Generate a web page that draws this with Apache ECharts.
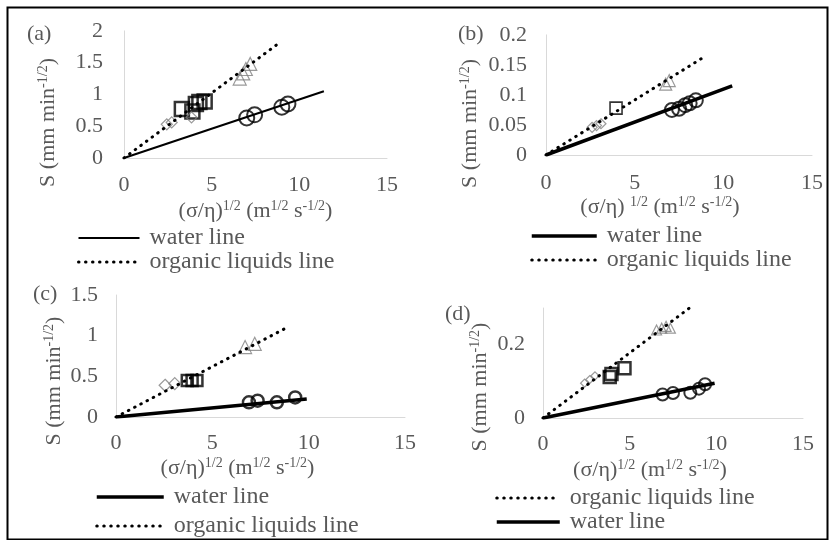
<!DOCTYPE html>
<html>
<head>
<meta charset="utf-8">
<script src="https://cdn.jsdelivr.net/npm/echarts@6/dist/echarts.min.js"></script>
<style>
  html, body { margin: 0; padding: 0; background: #fff; }
  #main { width: 829px; height: 540px; }
</style>
</head>
<body>
<div id="main"></div>
<script>
// 读图得到的数据 (x = (σ/η)^1/2, y = S)
const xTicks = [0, 5, 10, 15];

// (a)
const waterLineA = [[0, 0], [11.4, 1.05]];
const organicLineA = [[0, 0], [8.9, 1.82]];
const circlesA = [[7.0, 0.63], [7.45, 0.68], [9.0, 0.8], [9.35, 0.85]];
const squaresA = [[3.3, 0.77], [3.9, 0.73], [4.1, 0.85], [4.3, 0.88], [4.6, 0.89]];
const trianglesA = [[6.6, 1.25], [6.8, 1.33], [6.95, 1.4], [7.2, 1.48]];
const diamondsA = [[2.44, 0.53], [2.72, 0.56], [3.85, 0.64]];

// (b)
const waterLineB = [[0, 0], [10.5, 0.115]];
const organicLineB = [[0, 0], [8.9, 0.163]];
const circlesB = [[7.1, 0.075], [7.5, 0.077], [7.85, 0.083], [8.1, 0.086], [8.45, 0.091]];
const squaresB = [[3.95, 0.078]];
const trianglesB = [[6.75, 0.118], [6.95, 0.124]];
const diamondsB = [[2.6, 0.046], [2.85, 0.049], [3.1, 0.052]];

// (c)
const waterLineC = [[0, 0], [9.9, 0.22]];
const organicLineC = [[0, 0], [8.95, 1.11]];
const circlesC = [[6.9, 0.18], [7.35, 0.2], [8.35, 0.18], [9.3, 0.24]];
const squaresC = [[3.7, 0.45], [3.95, 0.45], [4.2, 0.45]];
const trianglesC = [[6.7, 0.86], [7.2, 0.9]];
const diamondsC = [[2.55, 0.39], [3.05, 0.41]];

// (d)
const waterLineD = [[0, 0], [9.9, 0.095]];
const organicLineD = [[0, 0], [8.45, 0.3]];
const circlesD = [[6.9, 0.064], [7.5, 0.068], [8.5, 0.069], [9.0, 0.08], [9.35, 0.092]];
const squaresD = [[3.85, 0.112], [3.95, 0.12], [4.7, 0.136]];
const trianglesD = [[6.55, 0.24], [6.85, 0.245], [7.1, 0.25], [7.35, 0.245]];
const diamondsD = [[2.4, 0.095], [2.7, 0.105], [3.0, 0.115]];

const FONT = '"Liberation Serif", "Times New Roman", serif';
const GREY = '#595959';
const DOTS = [0.5, 6.5];  // 圆点虚线

const rich = {
    s: { fontSize: 14, fontFamily: FONT, color: GREY, verticalAlign: 'top', lineHeight: 14 }
};

const panels = [
    {
        tag: 'a', tagPos: [27, 23],
        grid: { left: 124, top: 28, width: 263, height: 130 },
        yMax: 2, yStep: 0.5, yGap: 21, xGap: 16,
        xName: '(σ/η){s|1/2} (m{s|1/2} s{s|-1/2})', xNameGap: 41, xShift: 0,
        yNameGap: 64, yShift: 56,
        water: waterLineA, organic: organicLineA, waterW: 2,
        circles: circlesA, squares: squaresA, triangles: trianglesA, diamonds: diamondsA,
        sizes: [15, 14, 13, 11], circleW: 2, squareW: 2.5,
        legend: { left: 77, top: 226, itemWidth: 61, gap: 0, order: 'wo' }
    },
    {
        tag: 'b', tagPos: [458, 23],
        grid: { left: 546, top: 30, width: 266, height: 125 },
        yMax: 0.2, yStep: 0.05, yGap: 19, xGap: 17,
        xName: '(σ/η) {s|1/2} (m{s|1/2} s{s|-1/2})', xNameGap: 40, xShift: 38,
        yNameGap: 64, yShift: 57,
        water: waterLineB, organic: organicLineB, waterW: 3.5,
        circles: circlesB, squares: squaresB, triangles: trianglesB, diamonds: diamondsB,
        sizes: [14, 12, 12, 10], circleW: 2, squareW: 1.6,
        legend: { left: 530, top: 224, itemWidth: 65, gap: 0, order: 'wo' }
    },
    {
        tag: 'c', tagPos: [33, 283],
        grid: { left: 116, top: 295, width: 289, height: 122 },
        yMax: 1.5, yStep: 0.5, yGap: 18, xGap: 15,
        xName: '(σ/η){s|1/2} (m{s|1/2} s{s|-1/2})', xNameGap: 39, xShift: 46,
        yNameGap: 50, yShift: 50,
        water: waterLineC, organic: organicLineC, waterW: 3.5,
        circles: circlesC, squares: squaresC, triangles: trianglesC, diamonds: diamondsC,
        sizes: [12, 11, 13, 12], circleW: 2.5, squareW: 2.5,
        legend: { left: 95, top: 485, itemWidth: 67, gap: 5, order: 'wo' }
    },
    {
        tag: 'd', tagPos: [445, 303],
        grid: { left: 543, top: 308, width: 260, height: 110 },
        yMax: 0.3, yStep: 0.2, yGap: 18, xGap: 15,
        xName: '(σ/η){s|1/2} (m{s|1/2} s{s|-1/2})', xNameGap: 40, xShift: 46,
        yNameGap: 51, yShift: 48,
        water: waterLineD, organic: organicLineD, waterW: 3.5,
        circles: circlesD, squares: squaresD, triangles: trianglesD, diamonds: diamondsD,
        sizes: [12, 12, 10, 8], circleW: 2, squareW: 2.5,
        legend: { left: 495, top: 486, itemWidth: 63, gap: 0, order: 'ow' }
    }
];

const textBase = { fontFamily: FONT, fontSize: 22, color: GREY };

let grids = [], xAxes = [], yAxes = [], series = [], legends = [], titles = [];

panels.forEach((p, i) => {
    grids.push(p.grid);
    titles.push({
        text: '(' + p.tag + ')', left: p.tagPos[0], top: p.tagPos[1], padding: 0,
        textStyle: Object.assign({ fontWeight: 'normal' }, textBase)
    });
    xAxes.push({
        gridIndex: i, type: 'value', min: xTicks[0], max: xTicks[xTicks.length - 1], interval: 5,
        axisLine: { lineStyle: { color: '#d9d9d9', width: 1 } },
        axisTick: { show: false },
        splitLine: { show: false },
        axisLabel: Object.assign({ margin: p.xGap }, textBase),
        name: p.xName, nameLocation: 'middle', nameGap: p.xNameGap,
        nameTextStyle: Object.assign({ lineHeight: 24, rich: rich, padding: [0, p.xShift, 0, 0] }, textBase)
    });
    yAxes.push({
        gridIndex: i, type: 'value', min: 0, max: p.yMax, interval: p.yStep,
        axisLine: { show: true, lineStyle: { color: '#d9d9d9', width: 1 } },
        axisTick: { show: false },
        splitLine: { show: false },
        axisLabel: Object.assign({ margin: p.yGap, showMaxLabel: p.tag !== 'd' }, textBase),
        name: 'S (mm min{s|-1/2})', nameLocation: 'middle', nameGap: p.yNameGap, nameRotate: 90,
        nameTextStyle: Object.assign({ lineHeight: 24, rich: rich, padding: [0, p.yShift, 0, 0] }, textBase)
    });

    const waterName = 'water line (' + p.tag + ')';
    const orgName = 'organic liquids line (' + p.tag + ')';
    series.push({
        name: waterName, type: 'line', xAxisIndex: i, yAxisIndex: i,
        data: p.water, symbol: 'none', silent: true, color: '#000',
        lineStyle: { color: '#000', width: p.waterW }
    });
    series.push({
        name: orgName, type: 'line', xAxisIndex: i, yAxisIndex: i,
        data: p.organic, symbol: 'none', silent: true, color: '#000',
        lineStyle: { color: '#000', width: 3, type: DOTS, cap: 'round' }
    });

    const marks = [
        ['circle', p.circles, p.sizes[0], '#000', p.circleW],
        ['rect', p.squares, p.sizes[1], '#000', p.squareW],
        ['triangle', p.triangles, p.sizes[2], '#7f7f7f', 1.2],
        ['diamond', p.diamonds, p.sizes[3], '#7f7f7f', 1.2]
    ];
    marks.forEach(m => {
        series.push({
            type: 'scatter', xAxisIndex: i, yAxisIndex: i,
            symbol: m[0], symbolSize: m[2], data: m[1], silent: true,
            itemStyle: { color: 'rgba(0,0,0,0)', borderColor: m[3], borderWidth: m[4] }
        });
    });

    legends.push({
        data: p.legend.order === 'wo' ? [waterName, orgName] : [orgName, waterName],
        orient: 'vertical', left: p.legend.left, top: p.legend.top, padding: 0,
        itemWidth: p.legend.itemWidth, itemHeight: 14, itemGap: p.legend.gap,
        selectedMode: false,
        formatter: n => n.replace(/ \(.\)$/, ''),
        itemStyle: { opacity: 0 },
        lineStyle: { width: 'inherit' },
        textStyle: Object.assign({}, textBase, { fontSize: 24, lineHeight: 21, padding: [0, 0, 0, 5] })
    });
});

let myChart = echarts.init(document.getElementById('main'));
myChart.setOption({
    animation: false,
    backgroundColor: '#fff',
    title: titles,
    grid: grids,
    xAxis: xAxes,
    yAxis: yAxes,
    legend: legends,
    series: series,
    graphic: [{
        type: 'rect', left: 5, top: 5, silent: true,
        shape: { width: 820, height: 532 },
        style: { fill: 'none', stroke: '#000', lineWidth: 2 }
    }]
});
</script>
</body>
</html>
